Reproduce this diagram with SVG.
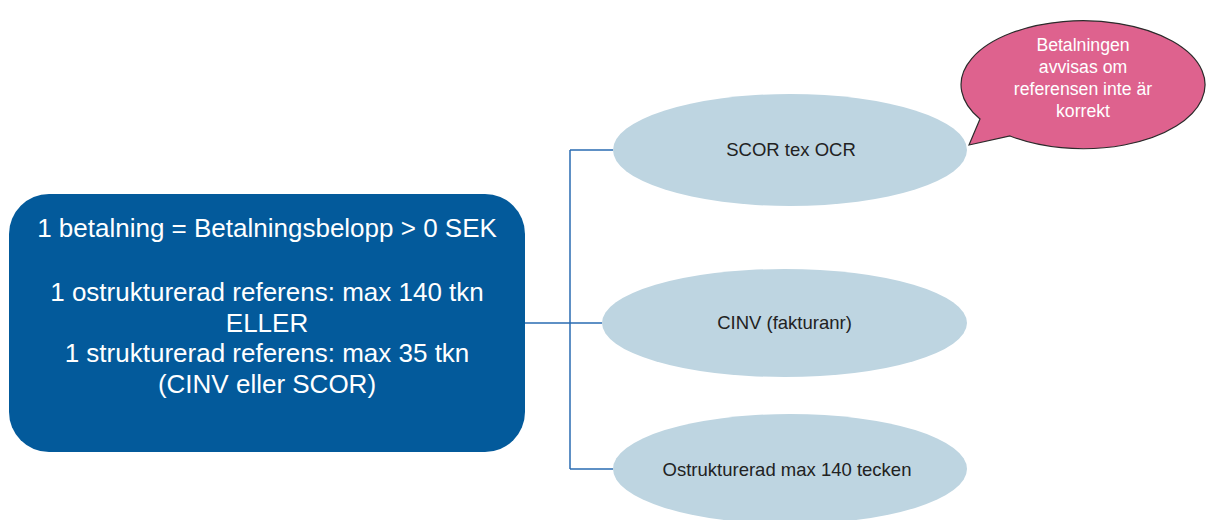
<svg xmlns="http://www.w3.org/2000/svg" width="1206" height="520" viewBox="0 0 1206 520">
<style>
.box{fill:#035a9b}
.ell{fill:#bed5e1}
.bub{fill:#de628e;stroke:#2b2b2b;stroke-width:1.2}
.conn{fill:none;stroke:#2a6cb2;stroke-width:1.5}
.bt{font-family:"Liberation Sans",Arial,sans-serif;font-size:26px;fill:#ffffff;text-anchor:middle}
.et{font-family:"Liberation Sans",Arial,sans-serif;font-size:18.5px;fill:#222222;text-anchor:middle}
.ct{font-family:"Liberation Sans",Arial,sans-serif;font-size:19px;fill:#ffffff;text-anchor:middle}
</style>
<rect width="1206" height="520" fill="#ffffff"/>
<g id="connectors">
<path class="conn" d="M525,323 H570 M570,150 V469 M570,150 H613 M570,323 H602 M570,469 H613"/>
</g>
<g id="main">
<rect class="box" x="9" y="194" width="516" height="258" rx="40" ry="40"/>
<text class="bt" x="267" y="237">1 betalning = Betalningsbelopp &gt; 0 SEK</text>
<text class="bt" x="267" y="301">1 ostrukturerad referens: max 140 tkn</text>
<text class="bt" x="267" y="331.5">ELLER</text>
<text class="bt" x="267" y="362">1 strukturerad referens: max 35 tkn</text>
<text class="bt" x="267" y="392.5">(CINV eller SCOR)</text>
</g>
<g id="scor">
<ellipse class="ell" cx="790" cy="150" rx="177" ry="56"/>
<text class="et" x="791" y="155.5">SCOR tex OCR</text>
</g>
<g id="cinv">
<ellipse class="ell" cx="784.5" cy="323" rx="182.5" ry="54"/>
<text class="et" x="784.5" y="329">CINV (fakturanr)</text>
</g>
<g id="ostr">
<ellipse class="ell" cx="790" cy="469" rx="177" ry="55"/>
<text class="et" x="787" y="476">Ostrukturerad max 140 tecken</text>
</g>
<g id="callout">
<path class="bub" d="M980,119 A122,64 0 1 1 1010,136 L969,145 Z"/>
<g transform="translate(1083,0) scale(0.93,1)">
<text class="ct" x="0" y="51">Betalningen</text>
<text class="ct" x="0" y="73">avvisas om</text>
<text class="ct" x="0" y="95">referensen inte är</text>
<text class="ct" x="0" y="117">korrekt</text>
</g>
</g>
</svg>
